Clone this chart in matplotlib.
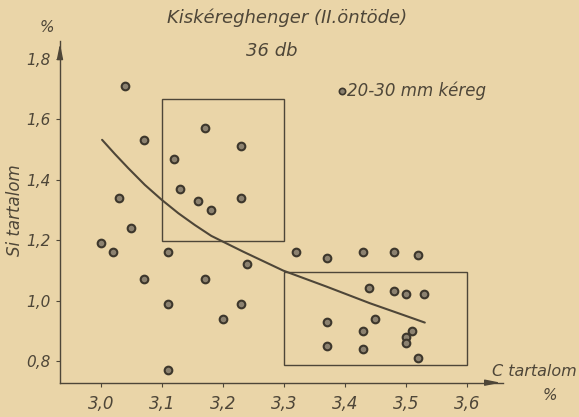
import matplotlib
matplotlib.use("Agg")
import matplotlib.pyplot as plt
from matplotlib.patches import Rectangle

plt.rcParams['font.family'] = ['DejaVu Sans']

# ---- data ----
c_content = [3.04, 3.17, 3.07, 3.12, 3.03, 3.13, 3.16, 3.23, 3.23, 3.18,
             3.05, 3.00, 3.02, 3.11, 3.07, 3.17, 3.11, 3.11, 3.32, 3.37,
             3.24, 3.23, 3.20, 3.37, 3.37, 3.43, 3.48, 3.52, 3.44, 3.48,
             3.50, 3.53, 3.45, 3.43, 3.51, 3.50, 3.50, 3.43, 3.52]
si_content = [1.71, 1.57, 1.53, 1.47, 1.34, 1.37, 1.33, 1.51, 1.34, 1.30,
              1.24, 1.19, 1.16, 1.16, 1.07, 1.07, 0.99, 0.77, 1.16, 1.14,
              1.12, 0.99, 0.94, 0.93, 0.85, 1.16, 1.16, 1.15, 1.04, 1.03,
              1.02, 1.02, 0.94, 0.90, 0.90, 0.88, 0.86, 0.84, 0.81]

curve_x = [3.002, 3.023, 3.045, 3.072, 3.100, 3.127, 3.154, 3.181, 3.233,
           3.299, 3.370, 3.441, 3.496, 3.531]
curve_y = [1.532, 1.485, 1.438, 1.383, 1.333, 1.289, 1.250, 1.214, 1.162,
           1.099, 1.046, 0.991, 0.952, 0.927]

# boxes: (x0, x1, y0, y1)
box_upper = [3.1, 3.3, 1.198, 1.668]
box_lower = [3.3, 3.6, 0.787, 1.095]

x_ticks = [3.0, 3.1, 3.2, 3.3, 3.4, 3.5, 3.6]
x_tick_labels = ["3,0", "3,1", "3,2", "3,3", "3,4", "3,5", "3,6"]
y_ticks = [0.8, 1.0, 1.2, 1.4, 1.6, 1.8]
y_tick_labels = ["0,8", "1,0", "1,2", "1,4", "1,6", "1,8"]

title = "Kiskéreghenger (II.öntöde)"
subtitle = "36 db"
legend_label = "20-30 mm kéreg"
xlabel = "C tartalom"
ylabel = "Si tartalom"
unit = "%"

# ---- style ----
bg = "#ead5a8"
ink = "#4e4638"
mark_face = "#8c8270"
mark_edge = "#3d372c"

fig = plt.figure(figsize=(5.79, 4.17), dpi=100)
fig.patch.set_facecolor(bg)
ax = fig.add_axes([0.1036, 0.0823, 0.766, 0.820])
ax.set_facecolor(bg)

ax.set_xlim(2.933, 3.66)
ax.set_ylim(0.728, 1.86)

for s in ["top", "right"]:
    ax.spines[s].set_visible(False)
for s in ["left", "bottom"]:
    ax.spines[s].set_color(ink)
    ax.spines[s].set_linewidth(1.0)

# arrowheads
ax.annotate("", xy=(1.0, 0), xytext=(0.96, 0), xycoords="axes fraction",
            arrowprops=dict(arrowstyle="-|>,head_length=0.9,head_width=0.18",
                            color=ink, lw=1.0), annotation_clip=False)
ax.annotate("", xy=(0, 1.0), xytext=(0, 0.96), xycoords="axes fraction",
            arrowprops=dict(arrowstyle="-|>,head_length=0.9,head_width=0.18",
                            color=ink, lw=1.0), annotation_clip=False)

ax.set_xticks(x_ticks)
ax.set_xticklabels(x_tick_labels, fontsize=12, style="italic", color=ink)
ax.set_yticks(y_ticks)
ax.set_yticklabels(y_tick_labels, fontsize=11, style="italic", color=ink)
ax.tick_params(axis="both", colors=ink, length=3, width=0.8)
ax.tick_params(axis="x", pad=6)
ax.tick_params(axis="y", pad=4)

# boxes
for b in (box_upper, box_lower):
    ax.add_patch(Rectangle((b[0], b[2]), b[1] - b[0], b[3] - b[2],
                           fill=False, edgecolor=ink, lw=1.0))

# curve
ax.plot(curve_x, curve_y, color=ink, lw=1.5, solid_capstyle="round")

# points
ax.plot(c_content, si_content, linestyle="none", marker="o", markersize=5.5,
        markerfacecolor=mark_face, markeredgecolor=mark_edge,
        markeredgewidth=1.5)

# legend-like annotation
ax.plot([3.395], [1.693], linestyle="none", marker="o", markersize=4.5,
        markerfacecolor=mark_face, markeredgecolor=mark_edge,
        markeredgewidth=1.2, clip_on=False)
ax.text(3.403, 1.693, legend_label, fontsize=12, style="italic", color=ink,
        va="center", ha="left")

# titles
fig.text(287 / 579, 1 - 18 / 417, title, fontsize=13, style="italic",
         color=ink, ha="center", va="center")
fig.text(272 / 579, 1 - 51 / 417, subtitle, fontsize=13, style="italic",
         color=ink, ha="center", va="center")

# axis labels
fig.text(15 / 579, 1 - 210 / 417, ylabel, fontsize=12, style="italic",
         color=ink, ha="center", va="center", rotation=90)
fig.text(47 / 579, 1 - 28 / 417, unit, fontsize=11, style="italic",
         color=ink, ha="center", va="center")
fig.text(577 / 579, 1 - 371 / 417, xlabel, fontsize=11.5, style="italic",
         color=ink, ha="right", va="center")
fig.text(550 / 579, 1 - 396 / 417, unit, fontsize=11, style="italic",
         color=ink, ha="center", va="center")

fig.savefig("out.png", dpi=100, facecolor=bg)
